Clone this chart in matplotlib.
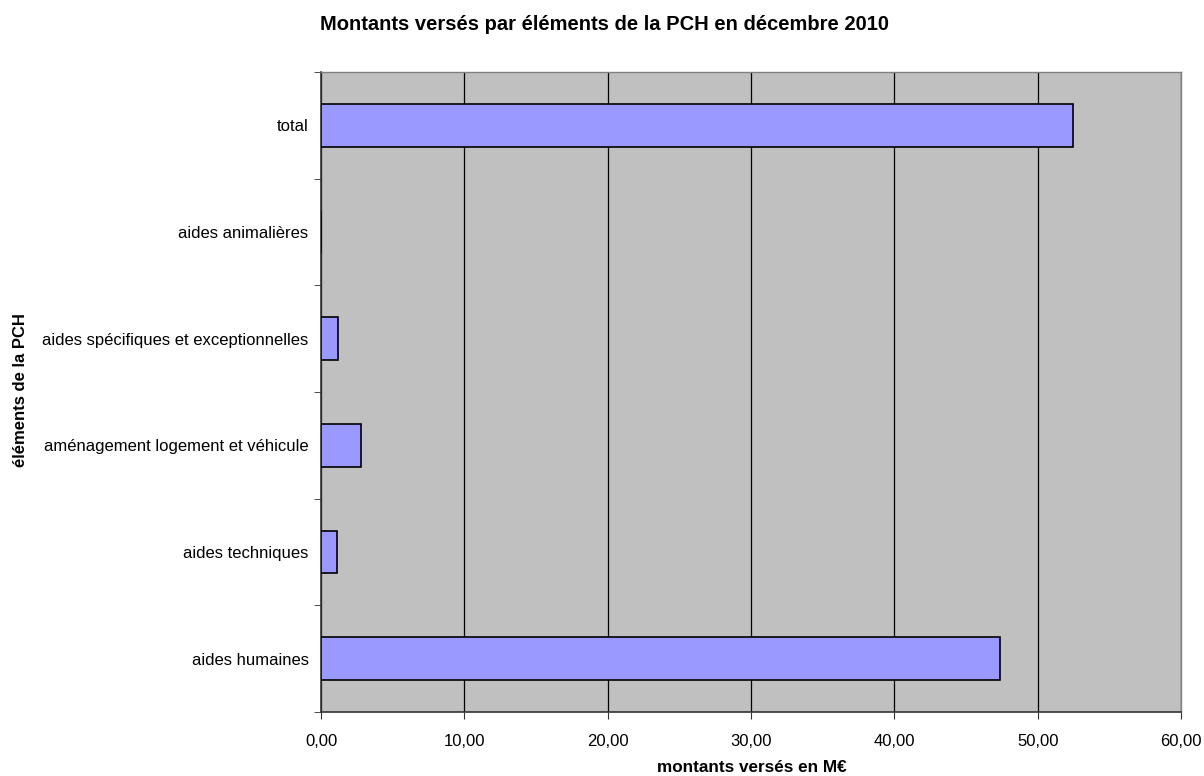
import numpy as np
import matplotlib.pyplot as plt
from matplotlib.ticker import FuncFormatter

plt.rcParams['font.family'] = ['Liberation Sans', 'DejaVu Sans']

# montants versés par élément (M€)
elements = ["aides humaines", "aides techniques", "aménagement logement et véhicule",
            "aides spécifiques et exceptionnelles", "aides animalières", "total"]
montants = [47.4, 1.12, 2.81, 1.2, 0.0, 52.45]

fig = plt.figure(figsize=(12.04, 7.76), dpi=100)
ax = fig.add_axes([321/1204, 1 - 712/776, 860/1204, 640/776])
ax.set_facecolor('#C0C0C0')

y = np.arange(len(elements))
ax.barh(y, montants, height=0.4, color='#9999FF', edgecolor='black', linewidth=1.2, zorder=3)

ax.set_xlim(0, 60)
ax.set_ylim(-0.5, len(elements) - 0.5)
ax.set_xticks(np.arange(0, 61, 10))
ax.xaxis.set_major_formatter(FuncFormatter(lambda v, p: f"{v:.2f}".replace('.', ',')))
ax.set_yticks(y)
ax.set_yticklabels(elements)
ax.set_yticks(np.arange(-0.5, len(elements), 1), minor=True)
ax.tick_params(axis='y', which='major', length=0, pad=9, labelsize=12)
ax.tick_params(axis='y', which='minor', length=5, direction='out', color='#333333')
ax.tick_params(axis='x', length=5, direction='out', pad=11, labelsize=12, color='#333333')
ax.grid(axis='x', color='black', linewidth=0.9, zorder=1)

for s in ['left', 'bottom']:
    ax.spines[s].set_color('#333333')
    ax.spines[s].set_linewidth(1.2)
for s in ['top', 'right']:
    ax.spines[s].set_color('#808080')
    ax.spines[s].set_linewidth(1.0)

fig.text(752/1204, 1 - 767/776, "montants versés en M€", fontweight='bold',
         fontsize=12.3, ha='center', va='center')
fig.text(21/1204, 1 - 390/776, "éléments de la PCH", rotation=90, fontweight='bold',
         fontsize=12, ha='center', va='center')
fig.text(605/1204, 1 - 24/776, "Montants versés par éléments de la PCH en décembre 2010",
         fontweight='bold', fontsize=14.5, ha='center', va='center')

fig.savefig('out.png', dpi=100)
